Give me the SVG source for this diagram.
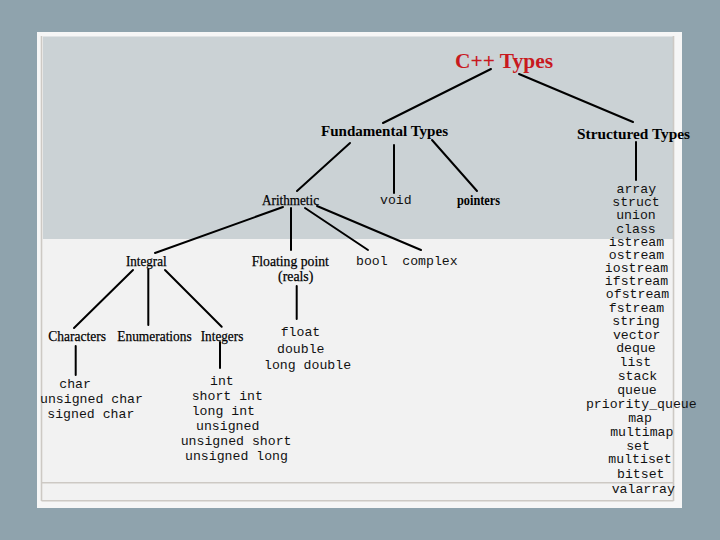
<svg xmlns="http://www.w3.org/2000/svg" width="720" height="540" viewBox="0 0 720 540">
<style>
.lbl{font-family:"Liberation Serif","Times New Roman",serif;font-size:15.5px;fill:#000;text-anchor:middle;stroke:#000;stroke-width:0.25}
.b{font-weight:bold;font-size:15px;stroke:none}
.code{font-family:"Liberation Mono","Courier New",monospace;font-size:13.2px;fill:#111}
.mid{text-anchor:middle}
.edge{stroke:#000;stroke-width:2;fill:none;stroke-linecap:round}
.frame{stroke:#cdc9c4;stroke-width:1.6;fill:none}
</style>
<rect width="720" height="540" fill="#8fa3ad"/>
<rect x="37" y="32" width="645" height="476" fill="#f6f6f6"/>
<rect x="42" y="36.5" width="631" height="465" fill="#f2f2f2"/>
<rect x="43" y="36.5" width="630" height="202.5" fill="#cbd2d5"/>
<g class="frame">
<line x1="41.5" y1="36" x2="41.5" y2="501"/>
<line x1="673.5" y1="36" x2="673.5" y2="501"/>
<line x1="41.5" y1="482.7" x2="673.5" y2="482.7"/>
<line x1="41.5" y1="500.7" x2="673.5" y2="500.7"/>
</g>
<g id="connectors">
<line class="edge" x1="491" y1="69" x2="383" y2="123"/>
<line class="edge" x1="519" y1="74" x2="633" y2="122"/>
<line class="edge" x1="350" y1="143" x2="297" y2="191"/>
<line class="edge" x1="394" y1="145" x2="394" y2="193"/>
<line class="edge" x1="432" y1="140" x2="477" y2="191"/>
<line class="edge" x1="636" y1="142" x2="636" y2="180"/>
<line class="edge" x1="283" y1="207" x2="155" y2="253"/>
<line class="edge" x1="291" y1="208" x2="291" y2="250"/>
<line class="edge" x1="305" y1="208" x2="368" y2="250"/>
<line class="edge" x1="317" y1="206" x2="421" y2="250"/>
<line class="edge" x1="133" y1="270" x2="74" y2="328"/>
<line class="edge" x1="148.3" y1="269.3" x2="148.3" y2="325"/>
<line class="edge" x1="165" y1="270" x2="221.7" y2="326.7"/>
<line class="edge" x1="296.7" y1="286" x2="296.7" y2="319"/>
<line class="edge" x1="75.7" y1="346" x2="75.7" y2="375"/>
<line class="edge" x1="220" y1="342" x2="220" y2="368"/>
</g>
<g id="cpp-types"><text class="lbl b" x="504" y="68" textLength="98" lengthAdjust="spacingAndGlyphs" style="font-size:22px;fill:#c8191e">C++ Types</text></g>
<g id="fundamental-types"><text class="lbl b" x="384.5" y="136" textLength="127" lengthAdjust="spacingAndGlyphs">Fundamental Types</text></g>
<g id="structured-types"><text class="lbl b" x="633.5" y="139" textLength="113" lengthAdjust="spacingAndGlyphs">Structured Types</text></g>
<g id="arithmetic"><text class="lbl" x="290.5" y="204.5" textLength="57" lengthAdjust="spacingAndGlyphs">Arithmetic</text></g>
<g id="void"><text class="code" x="380" y="204">void</text></g>
<g id="pointers"><text class="lbl b" x="478.5" y="204.5" textLength="43" lengthAdjust="spacingAndGlyphs" style="font-size:14.5px">pointers</text></g>
<g id="integral"><text class="lbl" x="146.3" y="265.5" textLength="40.7" lengthAdjust="spacingAndGlyphs">Integral</text></g>
<g id="floating-point"><text class="lbl" x="290.3" y="265.5" textLength="77.3" lengthAdjust="spacingAndGlyphs">Floating point</text><text class="lbl" x="295.7" y="280.5" textLength="35.3" lengthAdjust="spacingAndGlyphs">(reals)</text></g>
<g id="bool"><text class="code" x="356" y="265">bool</text></g>
<g id="complex"><text class="code" x="402.3" y="265">complex</text></g>
<g id="characters"><text class="lbl" x="77.2" y="341" textLength="57.7" lengthAdjust="spacingAndGlyphs">Characters</text></g>
<g id="enumerations"><text class="lbl" x="154.5" y="341" textLength="74.4" lengthAdjust="spacingAndGlyphs">Enumerations</text></g>
<g id="integers"><text class="lbl" x="222" y="341" textLength="42.6" lengthAdjust="spacingAndGlyphs">Integers</text></g>
<g id="char-list" class="code">
<text x="59.3" y="388.3">char</text>
<text x="40" y="403.3">unsigned char</text>
<text x="47.3" y="418.3">signed char</text>
</g>
<g id="int-list" class="code">
<text x="210" y="385">int</text>
<text x="191.7" y="400">short int</text>
<text x="191.7" y="415">long int</text>
<text x="196" y="430">unsigned</text>
<text x="180.7" y="444.5">unsigned short</text>
<text x="185" y="459.5">unsigned long</text>
</g>
<g id="float-list" class="code">
<text x="280.7" y="336">float</text>
<text x="277" y="352.7">double</text>
<text x="264" y="368.5">long double</text>
</g>
<g id="structured-list" class="code mid">
<text x="636.3" y="192.7">array</text>
<text x="636" y="206">struct</text>
<text x="636" y="219.3">union</text>
<text x="636" y="232.5">class</text>
<text x="636.5" y="245.5">istream</text>
<text x="636.5" y="258.5">ostream</text>
<text x="636.5" y="271.7">iostream</text>
<text x="636.5" y="284.7">ifstream</text>
<text x="637.5" y="298">ofstream</text>
<text x="636.5" y="311.5">fstream</text>
<text x="636" y="325">string</text>
<text x="636.7" y="338.7">vector</text>
<text x="636" y="352.3">deque</text>
<text x="635.3" y="366">list</text>
<text x="637.5" y="380">stack</text>
<text x="637" y="393.5">queue</text>
<text x="641.3" y="408.3">priority_queue</text>
<text x="640" y="422">map</text>
<text x="641.8" y="436">multimap</text>
<text x="638" y="449.5">set</text>
<text x="640" y="463">multiset</text>
<text x="640.8" y="478">bitset</text>
<text x="643.3" y="493">valarray</text>
</g>
</svg>
